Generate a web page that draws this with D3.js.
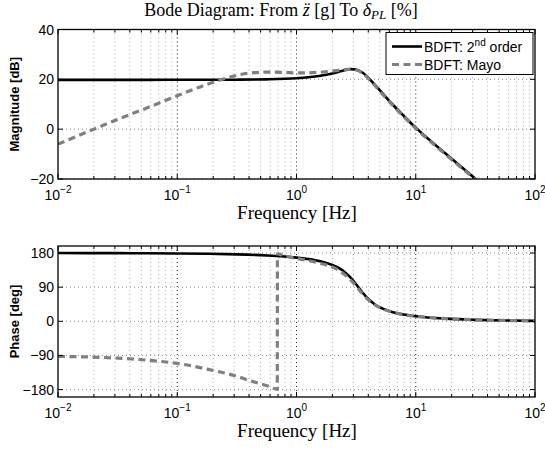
<!DOCTYPE html>
<html>
<head>
<meta charset="utf-8">
<script src="https://cdn.jsdelivr.net/npm/d3@7"></script>
<style>
  body { margin: 0; background: #fff; }
  svg { display: block; }
  .serif { font-family: "Liberation Serif", Tinos, "Times New Roman", "DejaVu Serif", serif; }
  .sans { font-family: "Liberation Sans", Arimo, Arial, sans-serif; }
</style>
</head>
<body>
<div id="chart"></div>
<script>
// frequencies (Hz) used for the 2nd order model curve
const freq = [0.01, 0.0178, 0.0316, 0.0562, 0.1, 0.178, 0.316, 0.562, 1, 1.259, 1.585, 1.995, 2.239, 2.512, 2.818, 3.162, 3.548, 3.981, 4.467, 5.012, 6.31, 7.943, 10, 17.78, 31.62, 56.23, 100];
const magOrder2 = [19.8, 19.8, 19.8, 19.8, 19.81, 19.82, 19.86, 20.0, 20.44, 20.83, 21.43, 22.38, 22.99, 23.63, 24.09, 23.97, 22.83, 20.75, 18.21, 15.56, 10.2, 5.3, 0.6, -9.8, -19.9, -29.8, -39.8];
const phaseOrder2 = [179.9, 179.8, 179.6, 179.4, 178.9, 178.0, 176.5, 173.6, 167.9, 164.0, 158.2, 148.6, 141.2, 130.8, 116.3, 97.6, 77.2, 59.5, 46.2, 36.7, 24.7, 17.8, 13.3, 7.0, 3.9, 2.2, 1.2];

// Mayo model, magnitude
const freqMayoMag = [0.01, 0.0178, 0.0316, 0.0562, 0.1, 0.178, 0.251, 0.316, 0.398, 0.562, 0.794, 1, 1.259, 1.585, 1.995, 2.239, 2.512, 2.818, 3.162, 3.548, 3.981, 4.467, 5.012, 6.31, 7.943, 10, 17.78, 31.62, 56.23, 100];
const magMayo = [-6.0, -1.0, 3.9, 8.6, 13.4, 18.0, 20.3, 21.6, 22.5, 22.9, 22.8, 22.6, 22.6, 22.9, 23.3, 23.6, 23.9, 24.0, 23.8, 22.6, 20.5, 17.9, 15.2, 9.9, 5.0, 0.3, -10.1, -20.2, -30.1, -40.1];

// Mayo model, phase (wraps from -180 to +180 near 0.69 Hz)
const freqMayoPhase = [0.01, 0.0178, 0.0316, 0.0562, 0.1, 0.178, 0.251, 0.316, 0.398, 0.5, 0.6, 0.69, 0.692, 0.794, 1, 1.259, 1.585, 1.995, 2.239, 2.512, 2.818, 3.162, 3.548, 3.981, 4.467, 5.012, 6.31, 7.943, 10, 17.78, 31.62, 56.23, 100];
const phaseMayo = [-92.5, -94, -97, -102.5, -111, -126, -136.5, -145, -155.5, -165, -172, -179, 178, 172, 166, 160, 153, 143, 135, 124, 110, 93, 74, 57, 45, 36, 24.5, 17.7, 13.3, 7.0, 3.9, 2.2, 1.2];

const xTickValues = [0.01, 0.1, 1, 10, 100];
const xTickExponents = ["\u22122", "\u22121", "0", "1", "2"];
const magTicks = [-20, 0, 20, 40];
const phaseTicks = [-180, -90, 0, 90, 180];

const width = 545;
const height = 450;
const left = 58, right = 535;

const svg = d3.select("#chart")
  .append("svg")
  .attr("width", width)
  .attr("height", height);

const xScale = d3.scaleLog()
  .domain([0.01, 100])
  .range([left, right]);

const allTicks = xScale.ticks(); // 1..9 per decade
const isMajor = v => Math.abs(Math.log10(v) - Math.round(Math.log10(v))) < 1e-6;

// one axes panel (grid, curves, box, ticks, labels)
const drawPanel = (id, top, bottom, domain, yTicks, yLabel, series) => {
  const yScale = d3.scaleLinear().domain(domain).range([bottom, top]);
  const g = svg.append("g");

  g.append("clipPath").attr("id", id)
    .append("rect")
    .attr("x", left).attr("y", top)
    .attr("width", right - left).attr("height", bottom - top);

  // grid
  g.selectAll(".vgrid")
    .data(allTicks.filter(v => v > 0.01 && v < 100))
    .join("line")
    .attr("x1", d => xScale(d)).attr("x2", d => xScale(d))
    .attr("y1", top).attr("y2", bottom)
    .attr("stroke", d => isMajor(d) ? "#222" : "#aaa")
    .attr("stroke-width", 1)
    .attr("stroke-dasharray", "1,3");

  g.selectAll(".hgrid")
    .data(yTicks)
    .join("line")
    .attr("x1", left).attr("x2", right)
    .attr("y1", d => yScale(d)).attr("y2", d => yScale(d))
    .attr("stroke", "#888")
    .attr("stroke-width", 1)
    .attr("stroke-dasharray", "1,3");

  // curves
  const line = d3.line()
    .x(d => xScale(d[0]))
    .y(d => yScale(d[1]))
    .curve(d3.curveMonotoneX);

  series.forEach(s => {
    g.append("path")
      .attr("clip-path", `url(#${id})`)
      .attr("d", line(s.f.map((f, i) => [f, s.v[i]])))
      .attr("fill", "none")
      .attr("stroke", s.color)
      .attr("stroke-width", s.w)
      .attr("stroke-dasharray", s.dash);
  });

  // box
  g.append("rect")
    .attr("x", left).attr("y", top)
    .attr("width", right - left).attr("height", bottom - top)
    .attr("fill", "none")
    .attr("stroke", "#000")
    .attr("stroke-width", 1.3);

  // x ticks inside, top and bottom
  allTicks.forEach(v => {
    const len = isMajor(v) ? 5 : 3;
    const xp = xScale(v);
    g.append("line").attr("x1", xp).attr("x2", xp).attr("y1", bottom).attr("y2", bottom - len)
      .attr("stroke", "#000").attr("stroke-width", 1);
    g.append("line").attr("x1", xp).attr("x2", xp).attr("y1", top).attr("y2", top + len)
      .attr("stroke", "#000").attr("stroke-width", 1);
  });

  // y ticks inside, left and right
  yTicks.forEach(v => {
    const yp = yScale(v);
    g.append("line").attr("x1", left).attr("x2", left + 5).attr("y1", yp).attr("y2", yp)
      .attr("stroke", "#000").attr("stroke-width", 1);
    g.append("line").attr("x1", right).attr("x2", right - 5).attr("y1", yp).attr("y2", yp)
      .attr("stroke", "#000").attr("stroke-width", 1);
  });

  // y tick labels
  g.selectAll(".ylab")
    .data(yTicks)
    .join("text")
    .attr("class", "sans")
    .attr("x", left - 4)
    .attr("y", d => yScale(d))
    .attr("dy", "0.36em")
    .attr("text-anchor", "end")
    .attr("font-size", "14px")
    .text(d => d < 0 ? "\u2212" + Math.abs(d) : d);

  // x tick labels 10^k
  xTickValues.forEach((v, i) => {
    const t = g.append("text")
      .attr("class", "sans")
      .attr("x", xScale(v))
      .attr("y", bottom + 21)
      .attr("text-anchor", "middle")
      .attr("font-size", "14px");
    t.append("tspan").text("10");
    t.append("tspan").attr("dy", -7).attr("font-size", "10px").text(xTickExponents[i]);
  });

  // axis labels
  g.append("text")
    .attr("class", "serif")
    .attr("x", 297)
    .attr("y", bottom + 40)
    .attr("text-anchor", "middle")
    .attr("font-size", "19px")
    .text("Frequency [Hz]");

  g.append("text")
    .attr("class", "sans")
    .attr("transform", `translate(19, ${(top + bottom) / 2}) rotate(-90)`)
    .attr("text-anchor", "middle")
    .attr("font-weight", "bold")
    .attr("font-size", "13px")
    .text(yLabel);

  return g;
};

const dashed = "7,4.5";

drawPanel("clipMag", 29.5, 179, [-20, 40], magTicks, "Magnitude [dB]", [
  { f: freq, v: magOrder2, color: "#000", w: 2.6, dash: null },
  { f: freqMayoMag, v: magMayo, color: "#808080", w: 3.2, dash: dashed }
]);

drawPanel("clipPhase", 246, 397, [-199.5, 198.5], phaseTicks, "Phase [deg]", [
  { f: freq, v: phaseOrder2, color: "#000", w: 2.6, dash: null },
  { f: freqMayoPhase, v: phaseMayo, color: "#808080", w: 3.2, dash: dashed }
]);

// title
const title = svg.append("text")
  .attr("class", "serif")
  .attr("x", 281)
  .attr("y", 16)
  .attr("text-anchor", "middle")
  .attr("font-size", "18px");
title.append("tspan").text("Bode Diagram: From ");
title.append("tspan").attr("font-style", "italic").text("z");
title.append("tspan").text(" [g] To ");
title.append("tspan").attr("font-style", "italic").text("\u03b4");
title.append("tspan").attr("font-style", "italic").attr("font-size", "13px").attr("dy", 3).text("PL");
title.append("tspan").attr("dy", -3).text(" [%]");

// double dot over the z (second derivative)
const zBox = title.node().getExtentOfChar(19);
svg.append("text")
  .attr("class", "serif")
  .attr("x", zBox.x + zBox.width / 2 + 1)
  .attr("y", 15)
  .attr("text-anchor", "middle")
  .attr("font-size", "18px")
  .text("\u00a8");

// legend
const legend = svg.append("g");
legend.append("rect")
  .attr("x", 386).attr("y", 32.5)
  .attr("width", 147).attr("height", 42)
  .attr("fill", "#fff")
  .attr("stroke", "#000")
  .attr("stroke-width", 1);

const legendItems = [
  { color: "#000", w: 2.6, dash: null, y: 46.5 },
  { color: "#808080", w: 3.2, dash: dashed, y: 64.5 }
];
legend.selectAll("line")
  .data(legendItems)
  .join("line")
  .attr("x1", 392).attr("x2", 422)
  .attr("y1", d => d.y).attr("y2", d => d.y)
  .attr("stroke", d => d.color)
  .attr("stroke-width", d => d.w)
  .attr("stroke-dasharray", d => d.dash);

const l1 = legend.append("text")
  .attr("class", "sans")
  .attr("x", 424).attr("y", 46.5).attr("dy", "0.36em")
  .attr("font-size", "14px");
l1.append("tspan").text("BDFT: 2");
l1.append("tspan").attr("font-size", "10px").attr("dy", -6).text("nd");
l1.append("tspan").attr("dy", 6).text(" order");

legend.append("text")
  .attr("class", "sans")
  .attr("x", 424).attr("y", 64.5).attr("dy", "0.36em")
  .attr("font-size", "14px")
  .text("BDFT: Mayo");
</script>
</body>
</html>
